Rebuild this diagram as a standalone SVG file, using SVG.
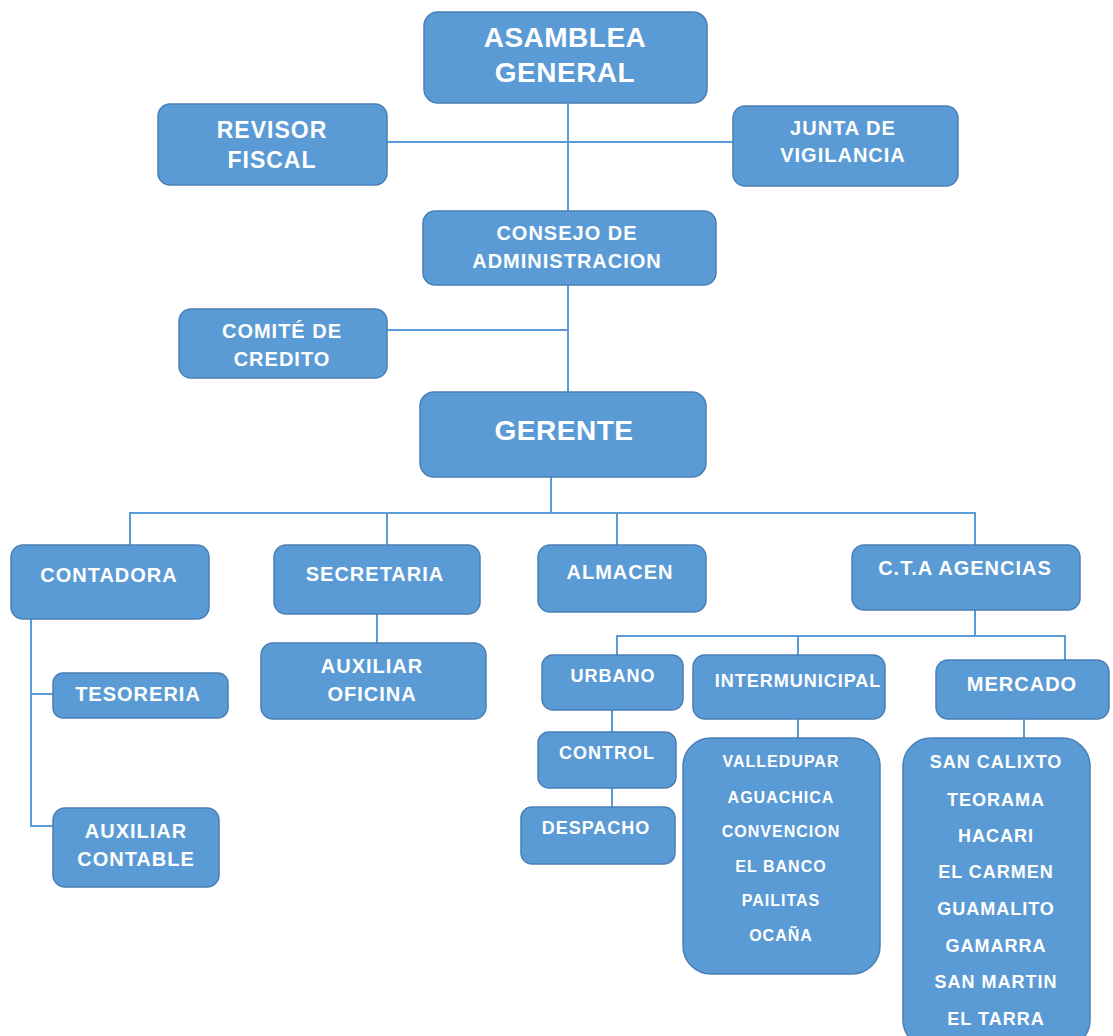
<svg xmlns="http://www.w3.org/2000/svg" width="1113" height="1036" viewBox="0 0 1113 1036">
<style>
.b{fill:#5B9BD5;stroke:#4A7FB5;stroke-width:1.5}
.t{fill:#fff;font-family:"Liberation Sans",Arial,sans-serif;font-weight:bold;text-anchor:middle;letter-spacing:1px}
.xl{font-size:28px;letter-spacing:0.5px}
.l{font-size:23px}
.m{font-size:20px}
.s{font-size:18px}
.xs{font-size:16px}
#conn line,#conn polyline{stroke:#5B9BD5;stroke-width:2;fill:none}
</style>
<rect width="1113" height="1036" fill="#fff"/>
<g id="conn">
<line x1="568" y1="103" x2="568" y2="392"/>
<line x1="387" y1="142" x2="733" y2="142"/>
<line x1="387" y1="330" x2="568" y2="330"/>
<line x1="551" y1="477" x2="551" y2="513"/>
<polyline points="130,545 130,513 975,513 975,545"/>
<line x1="387" y1="513" x2="387" y2="545"/>
<line x1="617" y1="513" x2="617" y2="545"/>
<polyline points="53,694 31,694 31,826 53,826"/>
<line x1="31" y1="619" x2="31" y2="694"/>
<line x1="377" y1="614" x2="377" y2="643"/>
<line x1="975" y1="610" x2="975" y2="636"/>
<polyline points="617,655 617,636 1065,636 1065,660"/>
<line x1="798" y1="636" x2="798" y2="655"/>
<line x1="612" y1="710" x2="612" y2="732"/>
<line x1="612" y1="788" x2="612" y2="807"/>
<line x1="798" y1="719" x2="798" y2="738"/>
<line x1="1024" y1="719" x2="1024" y2="738"/>
</g>
<g id="asamblea"><rect class="b" x="424" y="12" width="283" height="91" rx="14"/><text class="t xl" x="565" y="47">ASAMBLEA</text><text class="t xl" x="565" y="82">GENERAL</text></g>
<g id="revisor"><rect class="b" x="158" y="104" width="229" height="81" rx="12"/><text class="t l" x="272" y="138">REVISOR</text><text class="t l" x="272" y="168">FISCAL</text></g>
<g id="junta"><rect class="b" x="733" y="106" width="225" height="80" rx="12"/><text class="t m" x="843" y="135">JUNTA DE</text><text class="t m" x="843" y="162">VIGILANCIA</text></g>
<g id="consejo"><rect class="b" x="423" y="211" width="293" height="74" rx="12"/><text class="t m" x="567" y="240">CONSEJO DE</text><text class="t m" x="567" y="268">ADMINISTRACION</text></g>
<g id="comite"><rect class="b" x="179" y="309" width="208" height="69" rx="12"/><text class="t m" x="282" y="338">COMITÉ DE</text><text class="t m" x="282" y="366">CREDITO</text></g>
<g id="gerente"><rect class="b" x="420" y="392" width="286" height="85" rx="14"/><text class="t xl" x="564" y="440">GERENTE</text></g>
<g id="contadora"><rect class="b" x="11" y="545" width="198" height="74" rx="12"/><text class="t m" x="109" y="582">CONTADORA</text></g>
<g id="secretaria"><rect class="b" x="274" y="545" width="206" height="69" rx="12"/><text class="t m" x="375" y="581">SECRETARIA</text></g>
<g id="almacen"><rect class="b" x="538" y="545" width="168" height="67" rx="12"/><text class="t m" x="620" y="579">ALMACEN</text></g>
<g id="cta"><rect class="b" x="852" y="545" width="228" height="65" rx="12"/><text class="t m" x="965" y="575">C.T.A AGENCIAS</text></g>
<g id="tesoreria"><rect class="b" x="53" y="673" width="175" height="45" rx="10"/><text class="t m" x="138" y="701">TESORERIA</text></g>
<g id="auxcontable"><rect class="b" x="53" y="808" width="166" height="79" rx="12"/><text class="t m" x="136" y="838">AUXILIAR</text><text class="t m" x="136" y="866">CONTABLE</text></g>
<g id="auxoficina"><rect class="b" x="261" y="643" width="225" height="76" rx="12"/><text class="t m" x="372" y="673">AUXILIAR</text><text class="t m" x="372" y="701">OFICINA</text></g>
<g id="urbano"><rect class="b" x="542" y="655" width="141" height="55" rx="11"/><text class="t s" x="613" y="682">URBANO</text></g>
<g id="intermunicipal"><rect class="b" x="693" y="655" width="192" height="64" rx="12"/><text class="t s" x="798" y="687">INTERMUNICIPAL</text></g>
<g id="mercado"><rect class="b" x="936" y="660" width="173" height="59" rx="12"/><text class="t m" x="1022" y="691">MERCADO</text></g>
<g id="control"><rect class="b" x="538" y="732" width="138" height="56" rx="11"/><text class="t s" x="607" y="759">CONTROL</text></g>
<g id="despacho"><rect class="b" x="521" y="807" width="154" height="57" rx="11"/><text class="t s" x="596" y="834">DESPACHO</text></g>
<g id="intermunicipal-list"><rect class="b" x="683" y="738" width="197" height="236" rx="28"/>
<text class="t xs" x="781" y="767">VALLEDUPAR</text>
<text class="t xs" x="781" y="803">AGUACHICA</text>
<text class="t xs" x="781" y="837">CONVENCION</text>
<text class="t xs" x="781" y="872">EL BANCO</text>
<text class="t xs" x="781" y="906">PAILITAS</text>
<text class="t xs" x="781" y="941">OCAÑA</text>
</g>
<g id="mercado-list"><rect class="b" x="903" y="738" width="187" height="310" rx="28"/>
<text class="t s" x="996" y="768">SAN CALIXTO</text>
<text class="t s" x="996" y="806">TEORAMA</text>
<text class="t s" x="996" y="842">HACARI</text>
<text class="t s" x="996" y="878">EL CARMEN</text>
<text class="t s" x="996" y="915">GUAMALITO</text>
<text class="t s" x="996" y="952">GAMARRA</text>
<text class="t s" x="996" y="988">SAN MARTIN</text>
<text class="t s" x="996" y="1025">EL TARRA</text>
</g>
</svg>
